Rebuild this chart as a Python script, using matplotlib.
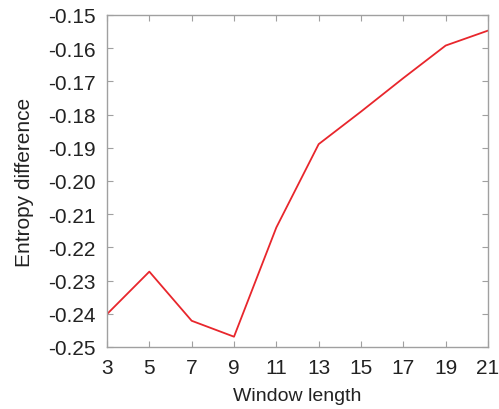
import matplotlib
matplotlib.use("Agg")
import matplotlib.pyplot as plt

# window length vs entropy difference
window_length = [3, 5, 7, 9, 11, 13, 15, 17, 19, 21]
entropy_diff = [-0.2401, -0.2273, -0.2421, -0.2469, -0.2140,
                -0.1889, -0.1791, -0.1690, -0.1592, -0.1547]

x_ticks = [3, 5, 7, 9, 11, 13, 15, 17, 19, 21]
y_ticks = [-0.25, -0.24, -0.23, -0.22, -0.21, -0.20,
           -0.19, -0.18, -0.17, -0.16, -0.15]

plt.rcParams["font.family"] = ["Liberation Sans", "DejaVu Sans"]

fig = plt.figure(figsize=(4.99, 4.10), dpi=100)
ax = fig.add_axes([107 / 499, 1 - 348 / 410, (488 - 107) / 499, (348 - 16) / 410])

ax.plot(window_length, entropy_diff, color="#e8262c", linewidth=1.3)

ax.set_xlim(3, 21)
ax.set_ylim(-0.25, -0.15)
ax.set_xticks(x_ticks)
ax.set_yticks(y_ticks)
ax.set_yticklabels([f"{v:.2f}" for v in y_ticks])

frame = "#a0a0a0"
for s in ax.spines.values():
    s.set_color(frame)
    s.set_linewidth(1.0)
ax.tick_params(direction="in", length=4, width=0.8, color=frame,
               top=True, right=True, labelsize=15, pad=8, labelcolor="#222222")

ax.set_xlabel("Window length", fontsize=14, color="#222222", labelpad=7)
ax.set_ylabel("Entropy difference", fontsize=15, color="#222222", labelpad=10)

fig.savefig("out.png", dpi=100)
